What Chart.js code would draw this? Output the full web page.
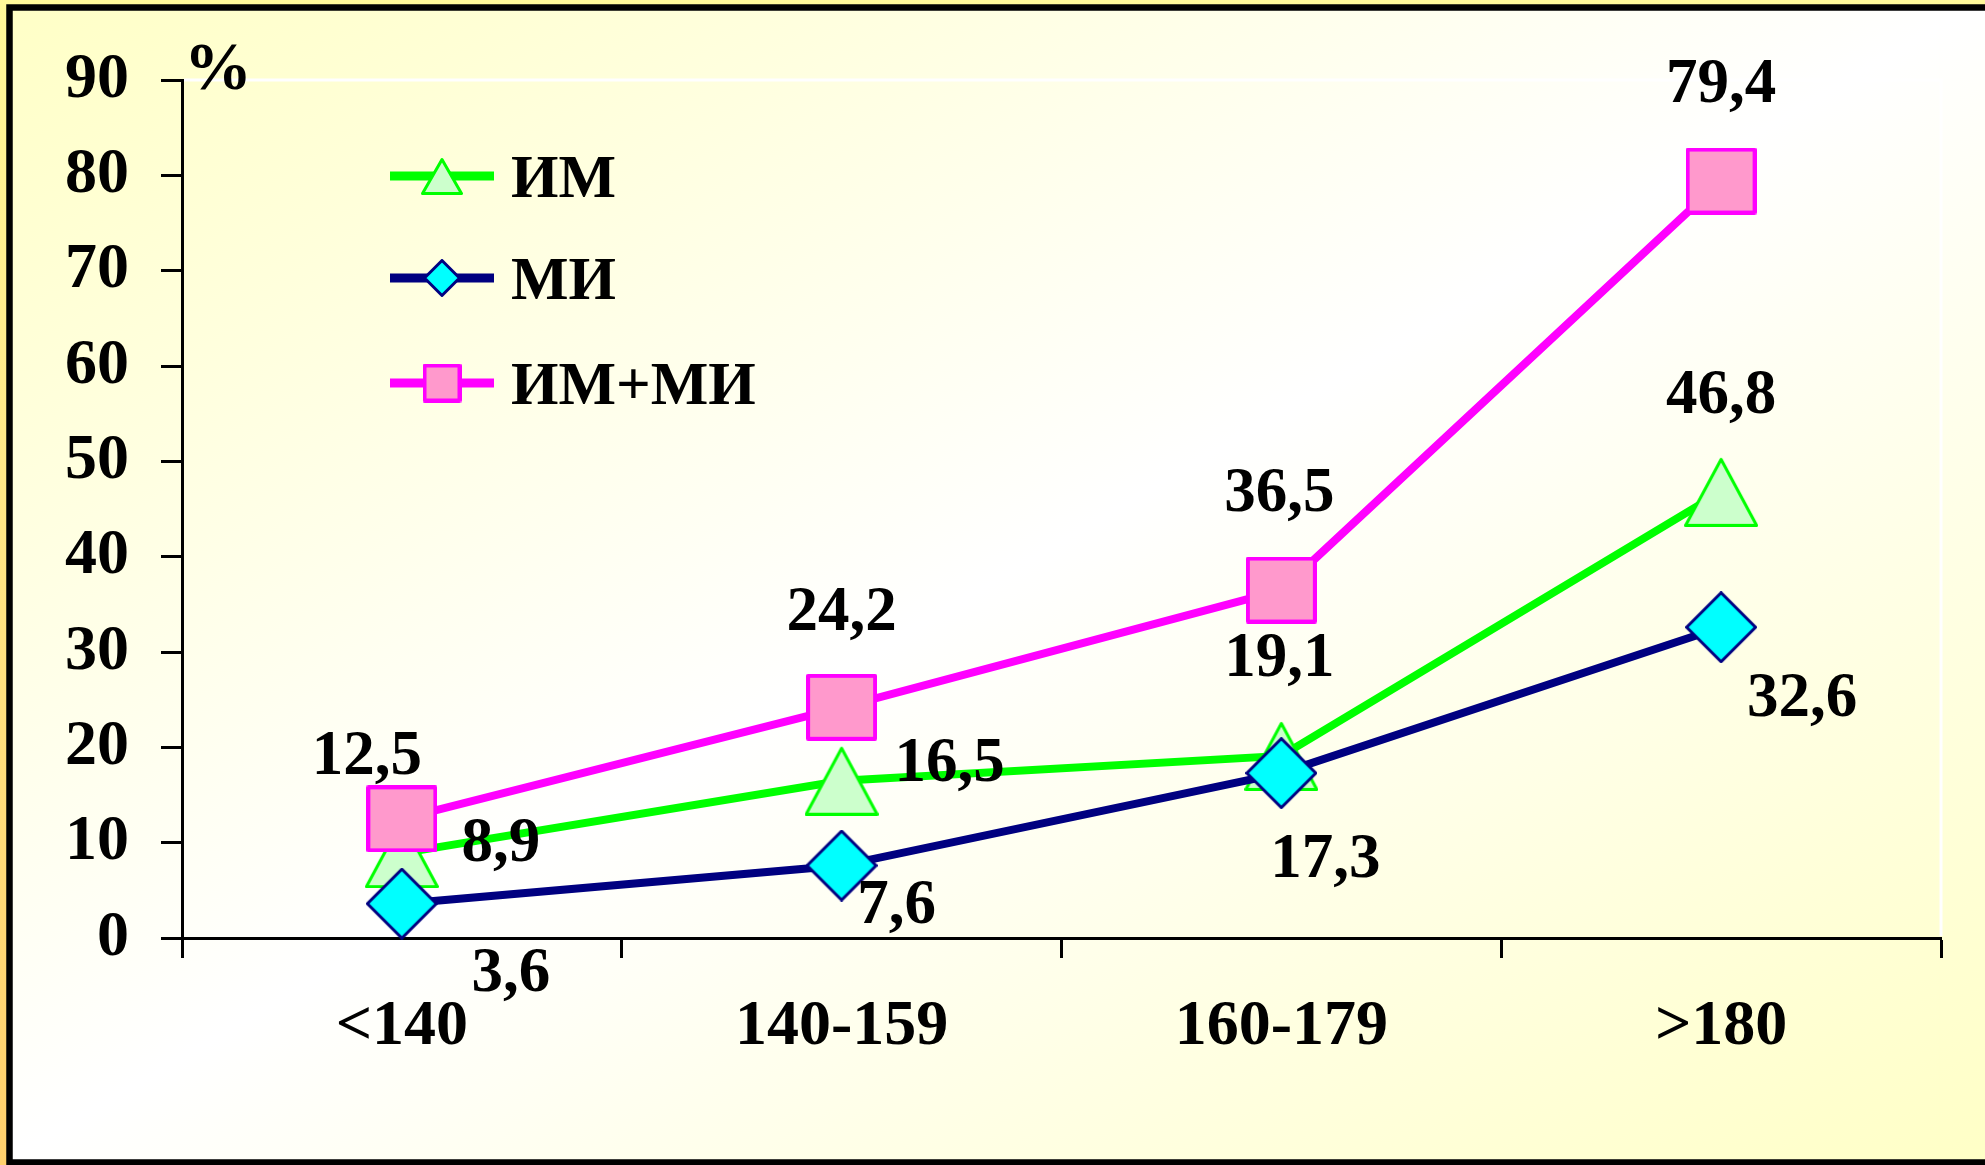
<!DOCTYPE html>
<html>
<head>
<meta charset="utf-8">
<script src="https://cdn.jsdelivr.net/npm/chart.js@4.4.1/dist/chart.umd.min.js"></script>
<style>
  html, body { margin: 0; padding: 0; background: #fff59a; }
  canvas { display: block; }
</style>
</head>
<body>
<canvas id="chart" width="1985" height="1165"></canvas>
<script>
// Blood pressure groups (x axis) and share of patients, %
const categories = ['<140', '140-159', '160-179', '>180'];
const seriesNames = ['ИМ', 'МИ', 'ИМ+МИ'];
const imValues = [8.9, 16.5, 19.1, 46.8];
const miValues = [3.6, 7.6, 17.3, 32.6];
const imMiValues = [12.5, 24.2, 36.5, 79.4];

const FONT = '"Liberation Serif", "Times New Roman", serif';
const W = 1985, H = 1165;

// Marker sprites: chart-size and legend-size versions
function marker(kind, w, h, fill, stroke, lw) {
  const c = document.createElement('canvas');
  c.width = w; c.height = h;
  const g = c.getContext('2d');
  g.fillStyle = fill;
  g.strokeStyle = stroke;
  g.lineWidth = lw;
  g.lineJoin = 'round';
  const p = lw / 2;
  g.beginPath();
  if (kind === 'triangle') {
    g.moveTo(w / 2, p + 1); g.lineTo(w - p, h - p); g.lineTo(p, h - p); g.closePath();
  } else if (kind === 'diamond') {
    g.moveTo(w / 2, p); g.lineTo(w - p, h / 2); g.lineTo(w / 2, h - p); g.lineTo(p, h / 2); g.closePath();
  } else {
    g.rect(p, p, w - 2 * p, h - 2 * p);
  }
  g.fill();
  g.stroke();
  return c;
}

const styles = [
  { line: '#00ff00', kind: 'triangle', fill: '#ccffcc', stroke: '#00ff00', lw: 3, size: [74, 70], legend: [42, 38] },
  { line: '#000080', kind: 'diamond',  fill: '#00ffff', stroke: '#000080', lw: 3, size: [72, 72], legend: [38, 38] },
  { line: '#ff00ff', kind: 'square',   fill: '#ff99cc', stroke: '#ff00ff', lw: 4, size: [71, 67], legend: [39, 39] }
];
styles.forEach(s => {
  s.sprite = marker(s.kind, s.size[0], s.size[1], s.fill, s.stroke, s.lw);
  s.legendSprite = marker(s.kind, s.legend[0], s.legend[1], s.fill, s.stroke, s.lw);
});

// Value label placement relative to each point (dx, dy of text centre)
const labelOffsets = [
  [[99, -13], [108, -21], [-2, -101], [0, -100]],
  [[109, 66], [55, 36], [44, 83], [81, 68]],
  [[-35, -66], [0, -98], [-2, -100], [0, -100]]
];

const backgroundPlugin = {
  id: 'slideBackground',
  beforeDraw(chart) {
    const ctx = chart.ctx;
    ctx.save();
    const outer = ctx.createLinearGradient(0, 0, 0, H);
    outer.addColorStop(0, '#fff89a');
    outer.addColorStop(1, '#ffd06c');
    ctx.fillStyle = outer;
    ctx.fillRect(0, 0, W, H);
    const inner = ctx.createLinearGradient(484, -284, 1500, 1448);
    inner.addColorStop(0, '#ffffc6');
    inner.addColorStop(0.5, '#ffffff');
    inner.addColorStop(1, '#ffffc6');
    ctx.fillStyle = inner;
    ctx.fillRect(10, 7, W, H);
    ctx.strokeStyle = '#000';
    ctx.lineWidth = 6.5;
    ctx.strokeRect(9.5, 7.5, W + 40, 1155);
    ctx.restore();
  },
  beforeDatasetsDraw(chart) {
    const { ctx, chartArea: a } = chart;
    ctx.save();
    ctx.strokeStyle = '#ffffff';
    ctx.lineWidth = 3;
    ctx.beginPath();
    ctx.moveTo(a.left + 2, a.top);
    ctx.lineTo(a.right, a.top);
    ctx.lineTo(a.right, a.bottom - 2);
    ctx.stroke();
    ctx.restore();
  }
};

const valueLabelPlugin = {
  id: 'valueLabels',
  afterDatasetsDraw(chart) {
    const ctx = chart.ctx;
    ctx.save();
    ctx.fillStyle = '#000';
    ctx.font = 'bold 63px ' + FONT;
    ctx.textAlign = 'center';
    ctx.textBaseline = 'alphabetic';
    chart.data.datasets.forEach((ds, di) => {
      const meta = chart.getDatasetMeta(di);
      meta.data.forEach((pt, i) => {
        const [dx, dy] = labelOffsets[di][i];
        const txt = ds.data[i].toFixed(1).replace('.', ',');
        ctx.fillText(txt, pt.x + dx, pt.y + dy + 21);
      });
    });
    ctx.restore();
  }
};

const legendPlugin = {
  id: 'seriesLegend',
  afterDraw(chart) {
    const ctx = chart.ctx;
    const rows = [176, 278, 383];
    ctx.save();
    chart.data.datasets.forEach((ds, di) => {
      const s = styles[di];
      const y = rows[di];
      ctx.strokeStyle = s.line;
      ctx.lineWidth = 9;
      ctx.beginPath();
      ctx.moveTo(390, y);
      ctx.lineTo(494, y);
      ctx.stroke();
      const sp = s.legendSprite;
      ctx.drawImage(sp, 442 - sp.width / 2, y - sp.height / 2);
      ctx.fillStyle = '#000';
      ctx.font = 'bold 61px ' + FONT;
      ctx.textAlign = 'left';
      ctx.textBaseline = 'alphabetic';
      ctx.fillText(ds.label, 511, y + 21);
    });
    // unit caption at the top of the value axis
    ctx.font = 'bold 68px ' + FONT;
    ctx.fillText('%', 184, 89);
    ctx.restore();
  }
};

const valueSets = [imValues, miValues, imMiValues];
const datasets = seriesNames.map((name, i) => ({
  label: name,
  data: valueSets[i],
  borderColor: styles[i].line,
  backgroundColor: styles[i].fill,
  borderWidth: 8,
  tension: 0,
  pointStyle: styles[i].sprite,
  pointRadius: 35,
  pointHoverRadius: 35,
  pointBorderWidth: 0,
  clip: false,
  order: 3 - i
}));

new Chart(document.getElementById('chart'), {
  type: 'line',
  data: { labels: categories, datasets },
  options: {
    responsive: false,
    animation: false,
    devicePixelRatio: 1,
    events: [],
    layout: { padding: { left: 0, top: 80, right: 44, bottom: 0 } },
    plugins: { legend: { display: false }, tooltip: { enabled: false } },
    scales: {
      x: {
        offset: true,
        afterFit(scale) { scale.height = 227; },
        grid: {
          offset: true,
          drawOnChartArea: false,
          drawTicks: true,
          tickLength: 20,
          tickColor: '#000',
          tickWidth: 3
        },
        border: { color: '#000', width: 3 },
        ticks: {
          color: '#000',
          padding: 31,
          maxRotation: 0,
          font: { family: FONT, size: 64, weight: 'bold' }
        }
      },
      y: {
        min: 0,
        max: 90,
        afterFit(scale) { scale.width = 182; },
        grid: {
          drawOnChartArea: false,
          drawTicks: true,
          tickLength: 21,
          tickColor: '#000',
          tickWidth: 3
        },
        border: { color: '#000', width: 3 },
        ticks: {
          stepSize: 10,
          color: '#000',
          padding: 32,
          font: { family: FONT, size: 64, weight: 'bold' }
        }
      }
    }
  },
  plugins: [backgroundPlugin, valueLabelPlugin, legendPlugin]
});
</script>
</body>
</html>
